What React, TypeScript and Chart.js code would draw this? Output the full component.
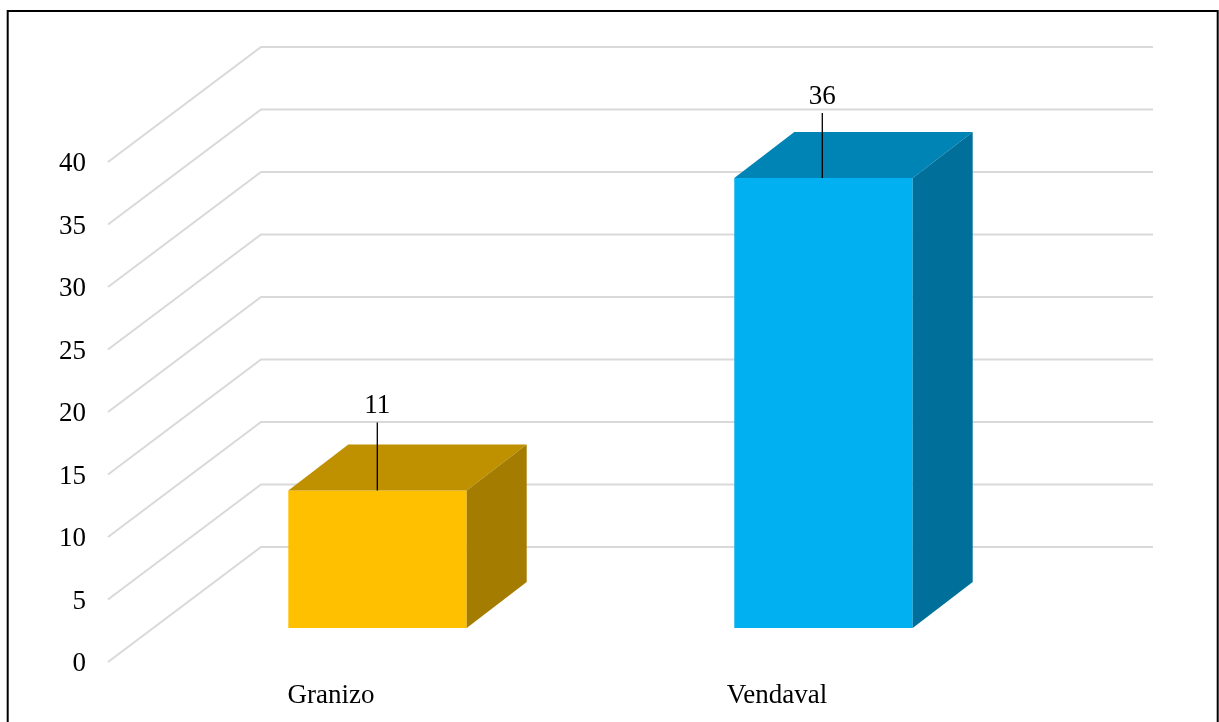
import React, { useEffect, useRef } from "react";
import { Chart, registerables } from "chart.js";

Chart.register(...registerables);

const categories = ["Granizo", "Vendaval"];
const counts = [11, 36];
const frontColors = ["#FFC000", "#00B0F0"];
const topColors = ["#BF9000", "#0084B5"];
const sideColors = ["#A47C00", "#00709A"];

const FONT_FAMILY = '"Liberation Serif", "Times New Roman", serif';
const FONT_SIZE = 27;

// Oblique projection used for the pseudo-3D look, in pixels.
const AXIS_DROP = 2;
const WALL_DX = 153;
const WALL_DY = -115;
const BAR_SHIFT_X = 46.5;
const BAR_SHIFT_Y = -34 - AXIS_DROP;
const DEPTH_X = 60;
const DEPTH_Y = -46;

// Leader line and value label placement for each bar.
const leaderLengths = [68, 65];
const labelGaps = [17, 16];
const leaderNudges = [-0.2, -1.2];

const framePlugin = {
  id: "frame",
  beforeDraw(chart: any) {
    const { ctx, width, height } = chart;
    ctx.save();
    ctx.fillStyle = "#ffffff";
    ctx.fillRect(0, 0, width, height);
    ctx.strokeStyle = "#000000";
    ctx.lineWidth = 2;
    ctx.beginPath();
    ctx.moveTo(7.7, height);
    ctx.lineTo(7.7, 11);
    ctx.lineTo(1217.7, 11);
    ctx.lineTo(1217.7, height);
    ctx.stroke();
    ctx.restore();
  },
};

const wallPlugin = {
  id: "wall",
  beforeDatasetsDraw(chart: any) {
    const { ctx, chartArea, scales } = chart;
    ctx.save();
    ctx.strokeStyle = "#D9D9D9";
    ctx.lineWidth = 2;
    ctx.lineJoin = "miter";
    for (const tick of scales.y.ticks) {
      const y = scales.y.getPixelForValue(tick.value) - AXIS_DROP;
      ctx.beginPath();
      ctx.moveTo(chartArea.left, y);
      ctx.lineTo(chartArea.left + WALL_DX, y + WALL_DY);
      ctx.lineTo(chartArea.right + WALL_DX, y + WALL_DY);
      ctx.stroke();
    }
    ctx.restore();
    // Bars stand in a plane between the axis edge and the back wall.
    ctx.save();
    ctx.translate(BAR_SHIFT_X, BAR_SHIFT_Y);
  },
  afterDatasetsDraw(chart: any) {
    const { ctx } = chart;
    const bars = chart.getDatasetMeta(0).data;
    bars.forEach((bar: any, i: number) => {
      const left = bar.x - bar.width / 2;
      const right = bar.x + bar.width / 2;
      const top = bar.y;
      const bottom = bar.base;

      ctx.fillStyle = topColors[i];
      ctx.beginPath();
      ctx.moveTo(left, top);
      ctx.lineTo(left + DEPTH_X, top + DEPTH_Y);
      ctx.lineTo(right + DEPTH_X, top + DEPTH_Y);
      ctx.lineTo(right, top);
      ctx.closePath();
      ctx.fill();

      ctx.fillStyle = sideColors[i];
      ctx.beginPath();
      ctx.moveTo(right, top);
      ctx.lineTo(right + DEPTH_X, top + DEPTH_Y);
      ctx.lineTo(right + DEPTH_X, bottom + DEPTH_Y);
      ctx.lineTo(right, bottom);
      ctx.closePath();
      ctx.fill();

      // Value label with its leader line.
      const lineX = bar.x + leaderNudges[i];
      const lineTop = top - leaderLengths[i];
      ctx.strokeStyle = "#000000";
      ctx.lineWidth = 1.3;
      ctx.beginPath();
      ctx.moveTo(lineX, top);
      ctx.lineTo(lineX, lineTop);
      ctx.stroke();

      ctx.fillStyle = "#000000";
      ctx.font = `${FONT_SIZE}px ${FONT_FAMILY}`;
      ctx.textAlign = "center";
      ctx.textBaseline = "middle";
      ctx.fillText(String(counts[i]), lineX, lineTop - labelGaps[i]);
    });
    ctx.restore();
  },
};

export default function App() {
  const canvasRef = useRef<HTMLCanvasElement | null>(null);

  useEffect(() => {
    const chart = new Chart(canvasRef.current as HTMLCanvasElement, {
      type: "bar",
      data: {
        labels: categories,
        datasets: [
          {
            data: counts,
            backgroundColor: frontColors,
            borderWidth: 0,
            barPercentage: 0.4,
            categoryPercentage: 1,
            clip: false,
          } as any,
        ],
      },
      options: {
        responsive: false,
        animation: false,
        layout: { padding: { left: 0, right: 219, top: 162 + AXIS_DROP, bottom: 0 } },
        plugins: {
          legend: { display: false },
          title: { display: false },
          tooltip: { enabled: false },
        },
        scales: {
          x: {
            grid: { display: false },
            border: { display: false },
            afterFit: (scale: any) => {
              scale.height = 60 - AXIS_DROP;
            },
            ticks: {
              color: "#000000",
              padding: 8,
              autoSkip: false,
              maxRotation: 0,
              font: { family: FONT_FAMILY, size: FONT_SIZE },
            },
          },
          y: {
            min: 0,
            max: 40,
            grid: { display: false },
            border: { display: false },
            afterFit: (scale: any) => {
              scale.width = 108;
            },
            ticks: {
              stepSize: 5,
              color: "#000000",
              padding: 14,
              font: { family: FONT_FAMILY, size: FONT_SIZE },
            },
          },
        },
      },
      plugins: [framePlugin, wallPlugin],
    } as any);
    return () => chart.destroy();
  }, []);

  return (
    <canvas
      ref={canvasRef}
      width={1219}
      height={722}
      style={{ position: "absolute", left: 0, top: 0, display: "block" }}
    />
  );
}
